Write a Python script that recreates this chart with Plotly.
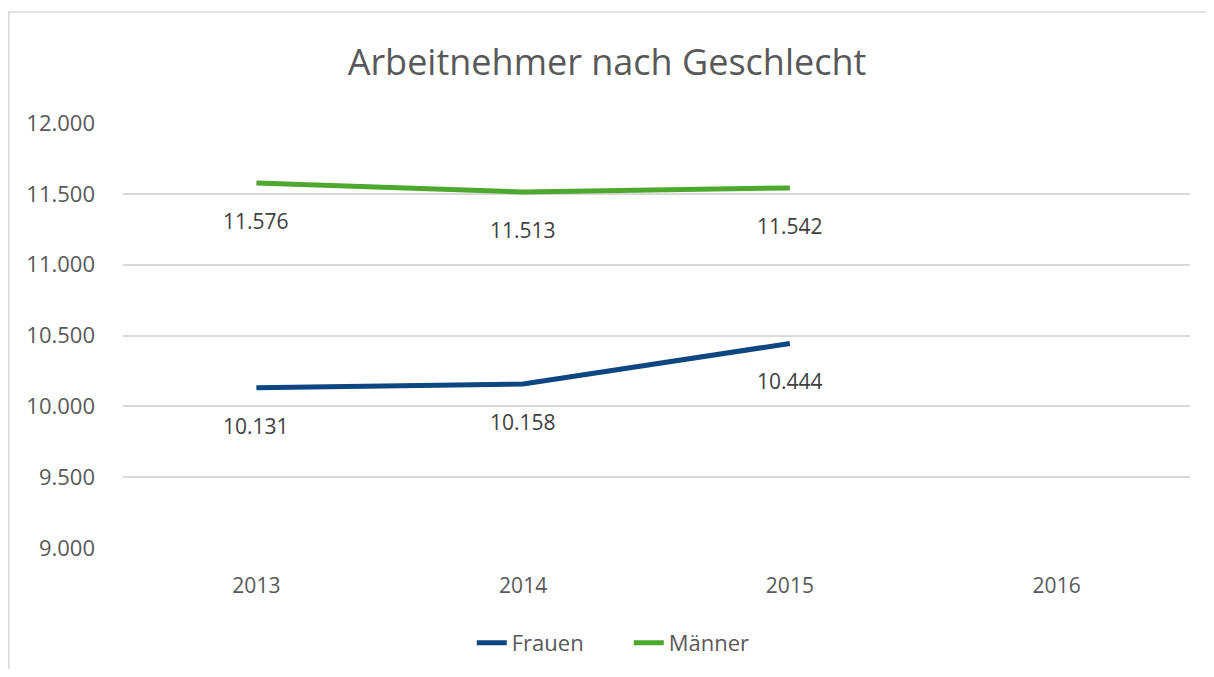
import plotly.graph_objects as go

# Werte aus dem Diagramm
jahre = ["2013", "2014", "2015", "2016"]
frauen = [10131, 10158, 10444, None]
maenner = [11576, 11513, 11542, None]
y_ticks = [9000, 9500, 10000, 10500, 11000, 11500, 12000]
y_tick_labels = ["9.000", "9.500", "10.000", "10.500", "11.000", "11.500", "12.000"]

font_name = "Open Sans"
grau = "#595959"
blau = "#0E4681"
gruen = "#4EA72E"

fig = go.Figure()

fig.add_trace(go.Scatter(x=jahre, y=frauen, mode="lines", name="Frauen",
                         line=dict(color=blau, width=5)))
fig.add_trace(go.Scatter(x=jahre, y=maenner, mode="lines", name="Männer",
                         line=dict(color=gruen, width=5)))


def fmt(v):
    return f"{v:,}".replace(",", ".")


# Datenbeschriftungen unterhalb der Punkte
for reihe in (frauen, maenner):
    for i, v in enumerate(reihe):
        if v is None:
            continue
        fig.add_annotation(x=i, y=v, text=fmt(v), showarrow=False,
                           yshift=-38, font=dict(size=21, color="#404040", family=font_name))

# Rahmen um das Diagramm
fig.add_shape(type="rect", xref="paper", yref="paper",
              x0=-0.107, x1=1.1, y0=-0.5, y1=1.261,
              line=dict(color="#d9d9d9", width=1.5))

fig.update_layout(
    title=dict(text="Arbeitnehmer nach Geschlecht", x=0.5, xanchor="center",
               y=0.918, yanchor="middle",
               font=dict(size=36, color=grau, family=font_name)),
    width=1198, height=661,
    margin=dict(l=115, r=16, t=115, b=121),
    plot_bgcolor="white", paper_bgcolor="white",
    font=dict(family=font_name, color=grau),
    showlegend=True,
    legend=dict(orientation="h", x=0.474, xanchor="center",
                yref="container", y=0.0393, yanchor="middle",
                entrywidth=112, font=dict(size=22, color=grau)),
    xaxis=dict(type="category", range=[-0.5, 3.5], showgrid=False, showline=False,
               ticks="", tickfont=dict(size=21, color=grau), ticklabelstandoff=23),
    yaxis=dict(range=[9000, 12000], tickvals=y_ticks, ticktext=y_tick_labels,
               showgrid=True, gridcolor="#d9d9d9", gridwidth=1.5, zeroline=False,
               showline=False, ticks="", tickfont=dict(size=22, color=grau),
               ticklabelstandoff=27),
)

fig.write_html("out.html")
